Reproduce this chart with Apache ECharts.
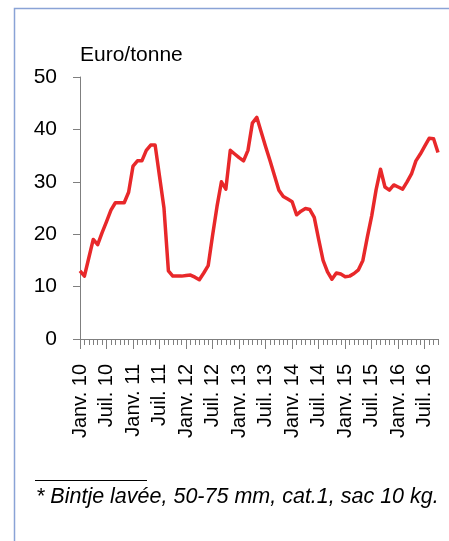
<!DOCTYPE html>
<html>
<head>
<meta charset="utf-8">
<script src="https://cdn.jsdelivr.net/npm/echarts@6/dist/echarts.min.js"></script>
<style>
  html, body { margin: 0; padding: 0; background: #fff; }
  #chart { width: 449px; height: 541px; }
</style>
</head>
<body>
<div id="chart"></div>
<script>
// ---- Data ----
const years = ['10', '11', '12', '13', '14', '15', '16'];
const monthNames = ['Janv.', 'Févr.', 'Mars', 'Avr.', 'Mai', 'Juin', 'Juil.', 'Août', 'Sept.', 'Oct.', 'Nov.', 'Déc.'];
const lastMonthCount = 10; // 2016 runs Jan..Oct
const yTicks = [0, 10, 20, 30, 40, 50];
const prices = [
  13, 12, 15.5, 19, 18, 20.3, 22.4, 24.6, 26, 26, 26, 28,
  33, 34, 34, 36, 37, 37, 31, 25, 13, 12, 12, 12,
  12.1, 12.2, 11.8, 11.3, 12.6, 14, 19.8, 25.3, 30, 28.6, 36, 35.3,
  34.6, 34, 36, 41.2, 42.3, 39.5, 36.7, 34, 31.2, 28.4, 27.2, 26.7,
  26.2, 23.7, 24.4, 24.9, 24.7, 23.2, 19, 15, 12.8, 11.4, 12.6, 12.4,
  11.9, 12, 12.5, 13.2, 15, 19.4, 23.5, 28.5, 32.4, 29, 28.4, 29.4,
  29, 28.6, 30, 31.5, 34, 35.3, 36.8, 38.3, 38.2, 35.6
];
const unitLabel = 'Euro/tonne';
const footnote = '* Bintje lavée, 50-75 mm, cat.1, sac 10 kg.';

// categories built from the month names and years
const categories = [];
years.forEach((y, yi) => {
  const n = (yi === years.length - 1) ? lastMonthCount : 12;
  for (let m = 0; m < n; m++) categories.push(monthNames[m] + ' ' + y);
});

const FONT = '"Liberation Sans", Arial, sans-serif';
const AXIS = '#7f7f7f';

const chart = echarts.init(document.getElementById('chart'), null, { renderer: 'canvas' });
chart.setOption({
  animation: false,
  backgroundColor: '#ffffff',
  grid: { left: 80, top: 77, width: 358, height: 262, containLabel: false },
  xAxis: [
    {
      type: 'category',
      data: categories,
      boundaryGap: false,
      position: 'bottom',
      axisLine: { show: true, lineStyle: { color: AXIS, width: 1 } },
      axisTick: { show: true, interval: 0, length: 6, lineStyle: { color: AXIS, width: 1 } },
      axisLabel: { show: false },
      splitLine: { show: false }
    },
    {
      type: 'category',
      data: categories,
      boundaryGap: false,
      position: 'bottom',
      axisLine: { show: false },
      axisTick: { show: true, interval: 5, length: 10, lineStyle: { color: AXIS, width: 1 } },
      axisLabel: {
        show: true, interval: 5, rotate: 90, margin: 25,
        color: '#000', fontSize: 20, fontFamily: FONT
      },
      splitLine: { show: false }
    }
  ],
  yAxis: {
    type: 'value',
    min: yTicks[0],
    max: yTicks[yTicks.length - 1],
    interval: 10,
    name: unitLabel,
    nameLocation: 'end',
    nameGap: 22,
    nameTextStyle: { color: '#000', fontSize: 21, fontFamily: FONT, align: 'left', verticalAlign: 'middle' },
    axisLine: { show: true, lineStyle: { color: AXIS, width: 1 } },
    axisTick: { show: true, length: 7, lineStyle: { color: AXIS, width: 1 } },
    axisLabel: { color: '#000', fontSize: 21, fontFamily: FONT, margin: 23 },
    splitLine: { show: false }
  },
  series: [{
    type: 'line',
    xAxisIndex: 0,
    data: prices,
    showSymbol: false,
    symbol: 'none',
    lineStyle: { color: '#e8282a', width: 3.5, join: 'round' },
    z: 3
  }],
  graphic: [
    {
      type: 'rect',
      shape: { x: 14.5, y: 8.5, width: 500, height: 600 },
      style: { fill: 'none', stroke: '#8aa3d6', lineWidth: 1.5 },
      silent: true, z: -1
    },
    {
      type: 'line',
      shape: { x1: 35, y1: 480.5, x2: 147, y2: 480.5 },
      style: { stroke: '#000', lineWidth: 1 },
      silent: true
    },
    {
      type: 'text',
      x: 36, y: 497,
      style: {
        text: footnote, fill: '#000',
        font: 'italic 21.5px ' + FONT,
        textAlign: 'left', textVerticalAlign: 'middle'
      },
      silent: true
    }
  ]
});
</script>
</body>
</html>
